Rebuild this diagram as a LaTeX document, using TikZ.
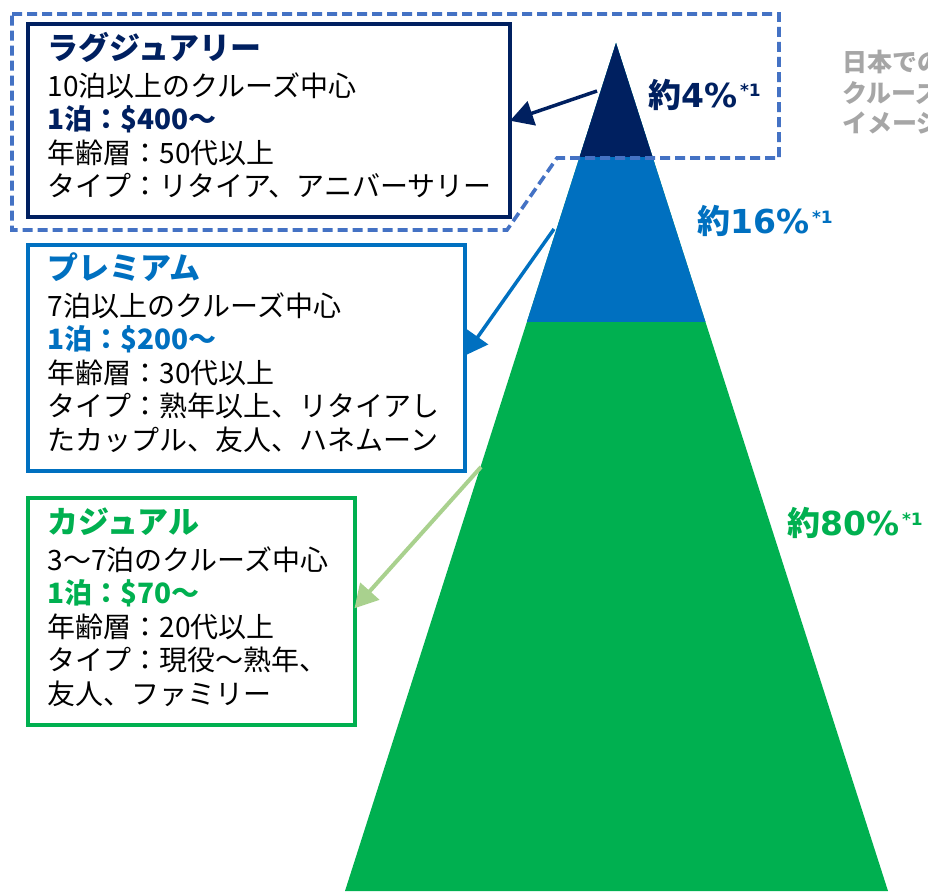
\documentclass[tikz,border=0pt]{standalone}
\usepackage{fontspec}
\setmainfont{Noto Sans CJK JP}
\newfontfamily\lat{DejaVu Sans}
\usetikzlibrary{arrows.meta,calc}
\definecolor{navy}{RGB}{0,32,96}
\definecolor{mblue}{RGB}{0,112,192}
\definecolor{mgreen}{RGB}{0,176,80}
\definecolor{lgreen}{RGB}{169,209,142}
\definecolor{dashblue}{RGB}{68,114,196}
\definecolor{lgray}{RGB}{166,166,166}
\begin{document}
\begin{tikzpicture}[x=1pt,y=-1pt,
  boxframe/.style={draw, line width=4pt, inner sep=0pt, outer sep=0pt, fill=white},
  boxtext/.style={anchor=base west, inner sep=0pt, align=left, font=\fontsize{28}{33.5}\selectfont, text=black},
  pct/.style={anchor=base west, inner sep=0pt, font=\bfseries\fontsize{33}{33}\selectfont},
  conn/.style={line width=3.5pt, -{Triangle[length=23pt,width=25pt]}},
  dashline/.style={draw=dashblue, line width=3.6pt, dash pattern=on 10pt off 5pt}]
\useasboundingbox (0,0) rectangle (928,891);
\clip (0,0) rectangle (928,891);
% pyramid
\coordinate (apex) at (616,43);
\coordinate (bl) at (345,891);
\coordinate (br) at (888,891);
\fill[mgreen] (apex) -- (bl) -- (br) -- cycle;
\fill[mblue] (apex) -- ($(apex)!0.329!(bl)$) -- ($(apex)!0.329!(br)$) -- cycle;
\fill[navy] (apex) -- ($(apex)!0.1344!(bl)$) -- ($(apex)!0.1344!(br)$) -- cycle;
% dashed outline of luxury area
\draw[dashline] (12,14) -- (779,14) -- (779,158) -- (557,158) -- (507,230) -- (12,230) -- cycle;
% boxes
\node[boxframe, draw=navy, minimum width=482.5pt, minimum height=192.5pt] (lux) at (268.75,120.75) {};
\node[boxframe, draw=mblue, minimum width=436.5pt, minimum height=226.5pt] (prem) at (246.25,357.75) {};
\node[boxframe, draw=mgreen, minimum width=326.5pt, minimum height=226.5pt] (cas) at (191.25,611.25) {};
% texts (anchored at the baseline of their last line)
\node[boxtext] (luxt) at (47.5,196.6) {{\fontsize{31}{33.5}\selectfont\bfseries\color{navy}ラグジュアリー}\\[3.3pt]
10泊以上のクルーズ中心\\
{\bfseries\color{navy}1泊：\$400～}\\
年齢層：50代以上\\
タイプ：リタイア、アニバーサリー};
\node[boxtext] (premt) at (47.5,450.1) {{\fontsize{31}{33.5}\selectfont\bfseries\color{mblue}プレミアム}\\[3.3pt]
7泊以上のクルーズ中心\\
{\bfseries\color{mblue}1泊：\$200～}\\
年齢層：30代以上\\
タイプ：熟年以上、リタイアし\\
たカップル、友人、ハネムーン};
\node[boxtext] (cast) at (47.5,704.1) {{\fontsize{31}{33.5}\selectfont\bfseries\color{mgreen}カジュアル}\\[3.3pt]
3～7泊のクルーズ中心\\
{\bfseries\color{mgreen}1泊：\$70～}\\
年齢層：20代以上\\
タイプ：現役～熟年、\\
友人、ファミリー};
% arrows
\coordinate (a1) at (597,91);
\coordinate (a2) at (554,229);
\coordinate (a3) at (481,467);
\draw[conn, navy] (a1) -- (lux.east);
\draw[conn, mblue] (a2) -- ($(prem.east)+(0,-2)$);
\draw[conn, lgreen, line width=4pt] (a3) -- ($(cas.east)+(0,-3)$);
% percentages
\node[pct, text=navy] (p4) at (648,107) {約{\lat 4\%}\raisebox{11pt}{\fontsize{17}{17}\selectfont\lat\,*1}};
\node[pct, text=mblue] (p16) at (697,233) {約{\lat 16\%}\raisebox{10pt}{\fontsize{17}{17}\selectfont\lat\,*1}};
\node[pct, text=mgreen] (p80) at (787,535) {約{\lat 80\%}\raisebox{10pt}{\fontsize{17}{17}\selectfont\lat\,*1}};
% side note (cut off at the right edge, as in the reference)
\node[anchor=base west, inner sep=0pt, align=left, font=\bfseries\fontsize{25}{30.5}\selectfont, text=lgray] (note) at (842,132.5) {日本での\\クルーズ\\イメージ};
\end{tikzpicture}
\end{document}
